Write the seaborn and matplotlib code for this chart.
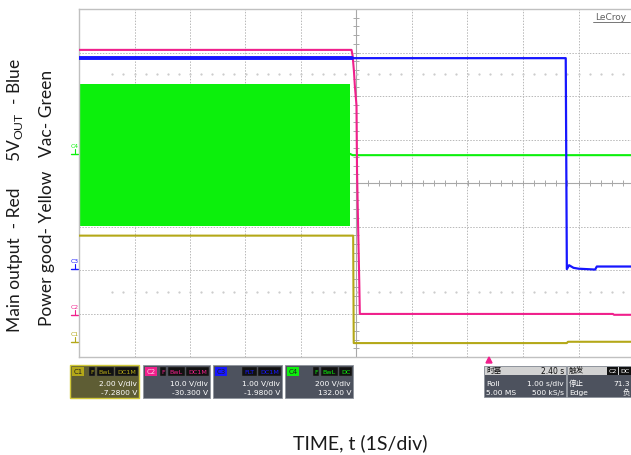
import numpy as np
import pandas as pd
import seaborn as sns
import matplotlib.pyplot as plt
from matplotlib.patches import Rectangle, Polygon

# ---- trace values ----
# time in s (1 s/div), level in divisions counted from the bottom of the grid
red_t = [0.0, 4.91, 4.93, 4.955, 4.97, 5.00, 5.01, 5.03, 5.05, 5.06, 9.62, 9.64, 10.0]
red_v = [7.06, 7.06, 6.93, 6.55, 6.24, 5.78, 4.25, 2.94, 1.72, 0.99, 0.99, 0.97, 0.97]

blue_pre_t = [0.0, 4.92]
blue_pre_v = [6.87, 6.87]
blue_t = [4.92, 8.77, 8.79, 8.83, 8.91, 9.00, 9.15, 9.30, 9.33, 10.0]
blue_v = [6.87, 6.87, 2.02, 2.11, 2.05, 2.03, 2.02, 2.01, 2.08, 2.08]

yellow_t = [0.0, 4.94, 4.95, 8.79, 8.81, 10.0]
yellow_v = [2.79, 2.79, 0.32, 0.32, 0.35, 0.35]

# Vac is a dense 50 Hz sine -> drawn as its envelope while on
green_on_t = [0.0, 4.88]
green_top = [6.28, 6.28]
green_bot = [3.02, 3.02]
green_t = [4.88, 4.93, 10.0]
green_v = [4.67, 4.64, 4.64]

# ground markers (divisions)
gnd_names = ['C1', 'C2', 'C3', 'C4']
gnd_level = [0.35, 0.97, 2.02, 4.66]

# channel panels
ch_names = ['C1', 'C2', 'C3', 'C4']
ch_flags = [['F', 'BwL', 'DC1M'], ['F', 'BwL', 'DC1M'], ['FLT', 'DC1M'], ['F', 'BwL', 'DC']]
ch_vdiv = ['2.00 V/div', '10.0 V/div', '1.00 V/div', '200 V/div']
ch_offs = ['-7.2800 V', '-30.300 V', '-1.9800 V', '132.00 V']

c_red = '#f0208c'
c_blue = '#1616ff'
c_green = '#0cf00c'
c_yellow = '#b4a818'
ch_cols = [c_yellow, c_red, c_blue, c_green]

sns.set_style('white')
plt.rcParams['font.family'] = ['DejaVu Sans']

W, H = 631, 456
fig = plt.figure(figsize=(W / 100, H / 100), dpi=100)

def fx(x):
    return x / W

def fy(y):
    return 1 - y / H

ax = fig.add_axes([fx(79), fy(358), 555 / W, 348 / H])
ax.set_xlim(0, 10)
ax.set_ylim(0, 8)

# graticule
for gx in range(1, 10):
    if gx != 5:
        ax.axvline(gx, color='#b8b8b8', lw=0.7, ls=(0, (1.5, 1.5)), zorder=0)
for gy in range(1, 8):
    if gy != 4:
        ax.axhline(gy, color='#b8b8b8', lw=0.7, ls=(0, (1.5, 1.5)), zorder=0)
ax.axvline(5, color='#a8a8a8', lw=0.8, zorder=0)
ax.axhline(4, color='#a8a8a8', lw=0.8, zorder=0)
tk = np.arange(0.2, 10, 0.2)
ax.plot(tk, np.full(len(tk), 4.0), ls='none', marker='|', ms=4, mew=0.7, color='#a8a8a8', zorder=0)
tk = np.arange(0.2, 8, 0.2)
ax.plot(np.full(len(tk), 5.0), tk, ls='none', marker='_', ms=4, mew=0.7, color='#a8a8a8', zorder=0)
for ry in (1.5, 6.5):
    tk = np.arange(0.6, 10, 0.2)
    ax.plot(tk, np.full(len(tk), ry), ls='none', marker='s', ms=0.6, color='#cccccc', zorder=0)
ax.set_xticks([])
ax.set_yticks([])
for s in ['left', 'top', 'bottom', 'right']:
    ax.spines[s].set_color('#c0c0c0')
    ax.spines[s].set_linewidth(1.0)

# traces
ax.fill_between(green_on_t, green_bot, green_top, color=c_green, lw=0, zorder=1)
df_g = pd.DataFrame({'t': green_t, 'v': green_v})
sns.lineplot(data=df_g, x='t', y='v', color=c_green, lw=1.5, sort=False, estimator=None, ax=ax, zorder=2)
df_y = pd.DataFrame({'t': yellow_t, 'v': yellow_v})
sns.lineplot(data=df_y, x='t', y='v', color=c_yellow, lw=1.5, sort=False, estimator=None, ax=ax, zorder=3)
df_r = pd.DataFrame({'t': red_t, 'v': red_v})
sns.lineplot(data=df_r, x='t', y='v', color=c_red, lw=1.5, sort=False, estimator=None, ax=ax, zorder=4)
df_b0 = pd.DataFrame({'t': blue_pre_t, 'v': blue_pre_v})
sns.lineplot(data=df_b0, x='t', y='v', color=c_blue, lw=2.8, sort=False, estimator=None, ax=ax, zorder=5)
df_b = pd.DataFrame({'t': blue_t, 'v': blue_v})
sns.lineplot(data=df_b, x='t', y='v', color=c_blue, lw=1.6, sort=False, estimator=None, ax=ax, zorder=5)
ax.set_xlabel('')
ax.set_ylabel('')

# ground markers left of the grid
for name, lv, col in zip(gnd_names, gnd_level, ch_cols):
    ax.plot([-0.14, -0.02], [lv, lv], color=col, lw=1.0, clip_on=False)
    ax.plot([-0.08, -0.08], [lv, lv + 0.12], color=col, lw=0.8, clip_on=False)
    ax.text(-0.08, lv + 0.14, name, fontsize=4.4, color=col, ha='center', va='bottom', clip_on=False)

fig.text(fx(611), fy(17), 'LeCroy', fontsize=6.5, color='#606060', ha='center', va='center')
fig.add_artist(plt.Line2D([fx(593), fx(630)], [fy(23), fy(23)], color='#606060', lw=0.6))

# trigger position marker
fig.add_artist(Polygon([[fx(486), fy(364)], [fx(492), fy(364)], [fx(489), fy(358)]],
                       closed=True, color=c_red, transform=fig.transFigure))


def box(x0, y0, x1, y1, fc, ec='#8e939c', lw=0.6):
    fig.add_artist(Rectangle((fx(x0), fy(y1)), (x1 - x0) / W, (y1 - y0) / H,
                             transform=fig.transFigure, fc=fc, ec=ec, lw=lw))


def label(x, y, s, size=5.4, color='white', ha='left', **kw):
    fig.text(fx(x), fy(y), s, ha=ha, va='center', fontsize=size, color=color, **kw)


chip_w = {'F': 6, 'BwL': 17, 'DC1M': 23, 'FLT': 15, 'DC': 13}
box_l = [70, 143, 213, 285]
box_r = [139, 210, 282, 353]
for i in range(4):
    x0, x1, col = box_l[i], box_r[i], ch_cols[i]
    if i == 0:
        box(x0, 366, x1, 399, '#5e5d34', ec='#d0c83a', lw=1.0)
    else:
        box(x0, 366, x1, 399, '#4d525e')
    # channel chip
    tc = '#202020' if i != 1 else '#ffd0e8'
    box(x0 + 2, 368, x0 + 14, 377, col, ec='none')
    label(x0 + 8, 372.5, ch_names[i], size=5, color=tc, ha='center')
    xr = x1 - 1
    for f in reversed(ch_flags[i]):
        w = chip_w[f]
        box(xr - w, 368, xr, 377, '#111111', ec='#555555', lw=0.3)
        label(xr - w / 2, 372.5, f, size=4.6, color=col, ha='center')
        xr -= w + 1.5
    label(x1 - 2, 384.5, ch_vdiv[i], ha='right')
    label(x1 - 2, 393.5, ch_offs[i], ha='right')

cjk = ['Noto Sans CJK SC', 'DejaVu Sans']
# timebase panel
box(484, 367, 566, 398, '#4d525e')
box(484.5, 367.5, 565.5, 376, '#d2d2d2', ec='none')
label(486, 371.5, '时基', size=5.5, color='#111111', family=cjk)
label(564, 371.5, '2.40 s', size=5.5, color='#111111', ha='right')
label(486, 384, 'Roll')
label(564, 384, '1.00 s/div', ha='right')
label(486, 393.5, '5.00 MS')
label(564, 393.5, '500 kS/s', ha='right')
# trigger panel
box(567, 367, 645, 398, '#4d525e')
box(567.5, 367.5, 645, 376, '#d2d2d2', ec='none')
label(569, 371.5, '触发', size=5.5, color='#111111', family=cjk)
box(607, 368, 618, 376, '#111111', ec='none')
label(612.5, 372, 'C2', size=4.6, color='white', ha='center')
box(619, 368, 632, 376, '#111111', ec='none')
label(625, 372, 'DC', size=4.6, color='white', ha='center')
label(569, 384, '停止', family=cjk)
label(630, 384, '71.3', ha='right')
label(569, 393.5, 'Edge')
label(623, 393.5, '负', family=cjk)

# axis captions
lab = ['Lato', 'DejaVu Sans']
fig.text(fx(360), fy(443), 'TIME, t (1S/div)', fontsize=14, color='#1a1a1a', ha='center', va='center', family=lab)
fig.text(fx(15), fy(260), 'Main output  - Red', fontsize=12.5, rotation=90, color='#1a1a1a', ha='center', va='center', family=lab)
fig.text(fx(15), fy(110), '5V$_\\mathregular{OUT}$  - Blue', fontsize=12.5, rotation=90, color='#1a1a1a', ha='center', va='center', family=lab)
fig.text(fx(47), fy(248), 'Power good- Yellow', fontsize=12.5, rotation=90, color='#1a1a1a', ha='center', va='center', family=lab)
fig.text(fx(47), fy(113), 'Vac- Green', fontsize=12.5, rotation=90, color='#1a1a1a', ha='center', va='center', family=lab)

fig.savefig('out.png', dpi=100)
